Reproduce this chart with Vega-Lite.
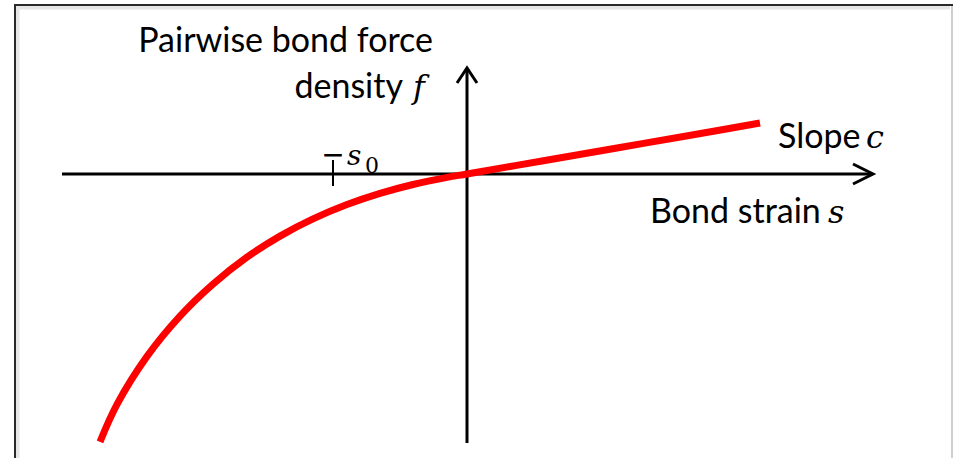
{
  "$schema": "https://vega.github.io/schema/vega-lite/v6.json",
  "width": 953,
  "height": 458,
  "autosize": {"type": "fit", "contains": "padding"},
  "padding": 0,
  "background": "white",
  "config": {"view": {"stroke": null}},
  "datasets": {
    "frame": [
      {"k": 0, "s": -4.52, "f": -2.9},
      {"k": 1, "s": -4.52, "f": 1.69},
      {"k": 2, "s": 4.86, "f": 1.69}
    ],
    "frameRight": [
      {"k": 0, "s": 4.85, "f": 1.69},
      {"k": 1, "s": 4.85, "f": -2.9}
    ],
    "frameShade": [
      {"k": 0, "s": -4.495, "f": -2.9},
      {"k": 1, "s": -4.495, "f": 1.665},
      {"k": 2, "s": 4.83, "f": 1.665}
    ],
    "axes": [
      {"part": "strain axis", "k": 0, "s": -4.05, "f": 0},
      {"part": "strain axis", "k": 1, "s": 4.05, "f": 0},
      {"part": "strain head", "k": 0, "s": 3.86, "f": 0.1},
      {"part": "strain head", "k": 1, "s": 4.06, "f": 0},
      {"part": "strain head", "k": 2, "s": 3.86, "f": -0.1},
      {"part": "force axis", "k": 0, "s": 0, "f": -2.69},
      {"part": "force axis", "k": 1, "s": 0, "f": 1.05},
      {"part": "force head", "k": 0, "s": -0.1, "f": 0.91},
      {"part": "force head", "k": 1, "s": 0, "f": 1.06},
      {"part": "force head", "k": 2, "s": 0.1, "f": 0.91}
    ],
    "tick": [
      {"k": 0, "s": -1.34, "f": 0.14},
      {"k": 1, "s": -1.34, "f": -0.12}
    ],
    "bond": [
      {"s": -3.67, "f": -2.678},
      {"s": -3.5, "f": -2.304},
      {"s": -3.2, "f": -1.824},
      {"s": -2.87, "f": -1.421},
      {"s": -2.54, "f": -1.101},
      {"s": -2.2, "f": -0.832},
      {"s": -1.87, "f": -0.621},
      {"s": -1.54, "f": -0.449},
      {"s": -1.2, "f": -0.306},
      {"s": -0.87, "f": -0.194},
      {"s": -0.54, "f": -0.105},
      {"s": -0.2, "f": -0.034},
      {"s": 0, "f": 0.0},
      {"s": 0.75, "f": 0.13},
      {"s": 1.5, "f": 0.26},
      {"s": 2.25, "f": 0.39},
      {"s": 2.93, "f": 0.51}
    ],
    "labelsRight": [
      {"s": -0.34, "f": 1.22, "label": "Pairwise bond force"},
      {"s": -0.64, "f": 0.76, "label": "density"}
    ],
    "labelsLeft": [
      {"s": 3.11, "f": 0.26, "label": "Slope"},
      {"s": 1.83, "f": -0.49, "label": "Bond strain"}
    ],
    "symbols": [
      {"s": -0.54, "f": 0.76, "label": "f"},
      {"s": 3.99, "f": 0.26, "label": "c"},
      {"s": 3.61, "f": -0.49, "label": "s"}
    ],
    "threshold": [{"s": -1.34, "f": 0.1, "label": "−"}],
    "thresholdSymbol": [{"s": -1.2, "f": 0.09, "label": "s"}],
    "thresholdIndex": [{"s": -1.02, "f": 0.01, "label": "0"}]
  },
  "encoding": {
    "x": {"field": "s", "type": "quantitative", "scale": {"domain": [-4.67, 4.86], "nice": false, "zero": false}, "axis": null},
    "y": {"field": "f", "type": "quantitative", "scale": {"domain": [-2.84, 1.74], "nice": false, "zero": false}, "axis": null}
  },
  "layer": [
    {
      "data": {"name": "frameShade"},
      "mark": {"type": "line", "color": "#e6e6e6", "strokeWidth": 4, "strokeJoin": "miter", "strokeCap": "butt", "clip": true},
      "encoding": {"order": {"field": "k"}}
    },
    {
      "data": {"name": "frameRight"},
      "mark": {"type": "line", "color": "#cfcfcf", "strokeWidth": 2, "strokeCap": "butt", "clip": true},
      "encoding": {"order": {"field": "k"}}
    },
    {
      "data": {"name": "frame"},
      "mark": {"type": "line", "color": "#2a2a2a", "strokeWidth": 2, "strokeJoin": "miter", "strokeCap": "butt", "clip": true},
      "encoding": {"order": {"field": "k"}}
    },
    {
      "data": {"name": "axes"},
      "mark": {"type": "line", "color": "black", "strokeWidth": 3, "strokeJoin": "miter", "strokeCap": "butt"},
      "encoding": {"detail": {"field": "part"}, "order": {"field": "k"}}
    },
    {
      "data": {"name": "tick"},
      "mark": {"type": "line", "color": "black", "strokeWidth": 2},
      "encoding": {"order": {"field": "k"}}
    },
    {
      "data": {"name": "bond"},
      "mark": {"type": "line", "color": "#ff0000", "strokeWidth": 7, "interpolate": "catmull-rom", "strokeCap": "butt"},
      "encoding": {}
    },
    {
      "data": {"name": "labelsRight"},
      "mark": {"type": "text", "align": "right", "baseline": "alphabetic", "font": "Lato", "fontSize": 34, "color": "black"},
      "encoding": {"text": {"field": "label"}}
    },
    {
      "data": {"name": "labelsLeft"},
      "mark": {"type": "text", "align": "left", "baseline": "alphabetic", "font": "Lato", "fontSize": 34, "color": "black"},
      "encoding": {"text": {"field": "label"}}
    },
    {
      "data": {"name": "symbols"},
      "mark": {"type": "text", "align": "left", "baseline": "alphabetic", "font": "DejaVu Serif", "fontStyle": "italic", "fontSize": 32, "color": "black"},
      "encoding": {"text": {"field": "label"}}
    },
    {
      "data": {"name": "threshold"},
      "mark": {"type": "text", "align": "center", "baseline": "alphabetic", "font": "DejaVu Sans", "fontSize": 28, "color": "black"},
      "encoding": {"text": {"field": "label"}}
    },
    {
      "data": {"name": "thresholdSymbol"},
      "mark": {"type": "text", "align": "left", "baseline": "alphabetic", "font": "DejaVu Serif", "fontStyle": "italic", "fontSize": 28, "color": "black"},
      "encoding": {"text": {"field": "label"}}
    },
    {
      "data": {"name": "thresholdIndex"},
      "mark": {"type": "text", "align": "left", "baseline": "alphabetic", "font": "DejaVu Serif", "fontSize": 22, "color": "black"},
      "encoding": {"text": {"field": "label"}}
    }
  ]
}
